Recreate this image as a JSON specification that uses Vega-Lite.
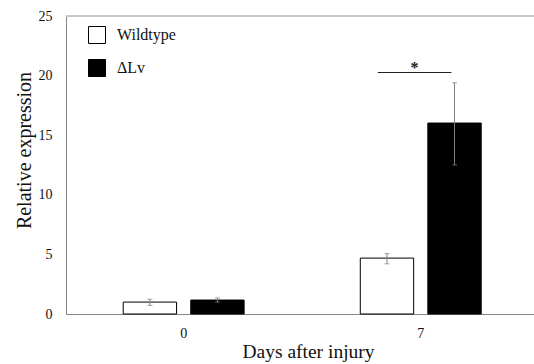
{
  "$schema": "https://vega.github.io/schema/vega-lite/v6.json",
  "width": 468,
  "height": 298,
  "autosize": "none",
  "padding": {"left": 66, "top": 16, "right": 0, "bottom": 50},
  "background": "white",
  "config": {
    "view": {"stroke": null},
    "font": "Liberation Serif",
    "axis": {
      "labelFont": "Liberation Serif",
      "titleFont": "Liberation Serif",
      "labelColor": "#111111",
      "titleColor": "#111111",
      "titleFontWeight": "normal",
      "domainColor": "#868686",
      "grid": false,
      "ticks": false
    }
  },
  "data": {
    "values": [
      {"day": "0", "genotype": "Wildtype", "value": 1.0, "lo": 0.72, "hi": 1.24},
      {"day": "0", "genotype": "ΔLv", "value": 1.17, "lo": 1.0, "hi": 1.34},
      {"day": "7", "genotype": "Wildtype", "value": 4.69, "lo": 4.21, "hi": 5.07},
      {"day": "7", "genotype": "ΔLv", "value": 16.02, "lo": 12.5, "hi": 19.4}
    ]
  },
  "layer": [
    {
      "mark": {"type": "rule", "color": "#c4c4c4", "strokeWidth": 1},
      "encoding": {"y": {"datum": 25, "type": "quantitative"}}
    },
    {
      "mark": {"type": "bar", "stroke": "black", "strokeWidth": 1},
      "encoding": {
        "x": {
          "field": "day", "type": "nominal",
          "scale": {"paddingInner": 0.49, "paddingOuter": 0.232, "align": 0.52},
          "axis": {"title": "Days after injury", "labelAngle": 0, "labelFontSize": 14, "titleFontSize": 19.5, "labelPadding": 12, "titlePadding": 2, "titleX": 242}
        },
        "xOffset": {"field": "genotype", "type": "nominal", "sort": ["Wildtype", "ΔLv"], "scale": {"paddingInner": 0.21, "paddingOuter": 0}},
        "y": {
          "field": "value", "type": "quantitative",
          "scale": {"domain": [0, 25], "nice": false},
          "axis": {"title": "Relative expression", "values": [0, 5, 10, 15, 20, 25], "labelFontSize": 14, "titleFontSize": 20, "labelPadding": 14, "titlePadding": 4, "titleY": 134}
        },
        "fill": {
          "field": "genotype", "type": "nominal",
          "scale": {"domain": ["Wildtype", "ΔLv"], "range": ["white", "black"]},
          "legend": {
            "orient": "none", "legendX": 22, "legendY": 10, "title": null,
            "symbolType": "square", "symbolSize": 289,
            "symbolStrokeColor": "black", "symbolStrokeWidth": 1,
            "labelFont": "Liberation Serif", "labelFontSize": 16, "labelColor": "#111111",
            "labelOffset": 11, "rowPadding": 11, "padding": 0
          }
        }
      }
    },
    {
      "mark": {"type": "rule", "color": "#7f7f7f", "strokeWidth": 1},
      "encoding": {
        "x": {"field": "day", "type": "nominal"},
        "xOffset": {"field": "genotype", "type": "nominal", "sort": ["Wildtype", "ΔLv"]},
        "y": {"field": "lo", "type": "quantitative"},
        "y2": {"field": "hi"}
      }
    },
    {
      "mark": {"type": "tick", "orient": "horizontal", "color": "#7f7f7f", "size": 5, "thickness": 1},
      "encoding": {
        "x": {"field": "day", "type": "nominal"},
        "xOffset": {"field": "genotype", "type": "nominal", "sort": ["Wildtype", "ΔLv"]},
        "y": {"field": "lo", "type": "quantitative"}
      }
    },
    {
      "mark": {"type": "tick", "orient": "horizontal", "color": "#7f7f7f", "size": 5, "thickness": 1},
      "encoding": {
        "x": {"field": "day", "type": "nominal"},
        "xOffset": {"field": "genotype", "type": "nominal", "sort": ["Wildtype", "ΔLv"]},
        "y": {"field": "hi", "type": "quantitative"}
      }
    },
    {
      "data": {"values": [{"day": "7", "y": 20.26}]},
      "mark": {"type": "rule", "color": "#222222", "strokeWidth": 1},
      "encoding": {
        "x": {"field": "day", "type": "nominal", "bandPosition": 0.145},
        "x2": {"field": "day", "bandPosition": 0.754},
        "y": {"field": "y", "type": "quantitative"}
      }
    },
    {
      "data": {"values": [{"day": "7", "y": 20.6, "label": "*"}]},
      "mark": {"type": "text", "font": "Liberation Serif", "fontSize": 16, "fontWeight": "bold", "color": "#222222", "baseline": "middle"},
      "encoding": {
        "x": {"field": "day", "type": "nominal", "bandPosition": 0.448},
        "y": {"field": "y", "type": "quantitative"},
        "text": {"field": "label"}
      }
    }
  ]
}
